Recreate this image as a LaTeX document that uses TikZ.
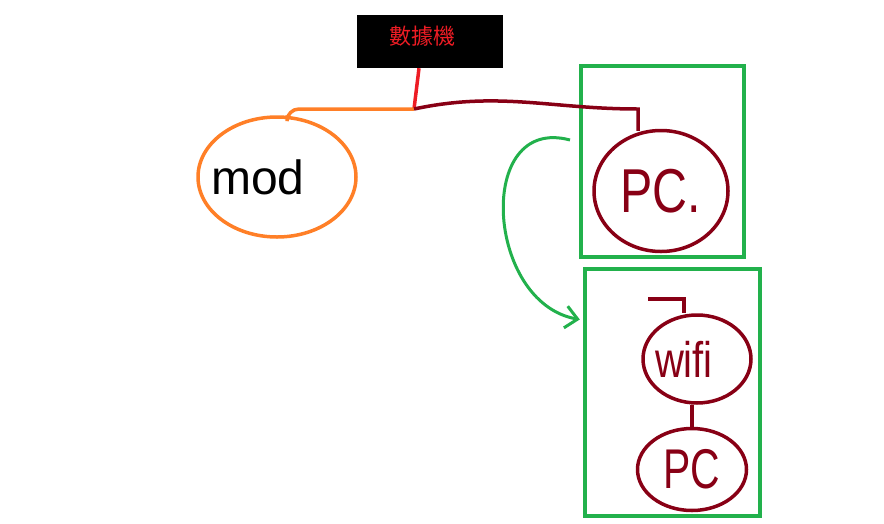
\documentclass[tikz,border=0pt]{standalone}
\usepackage{fontspec}
\setmainfont{Liberation Sans}
\newfontfamily\cjk{Noto Sans CJK TC}
\usepackage{tikz}
\usetikzlibrary{arrows.meta, positioning, shapes.geometric}

\definecolor{paintred}{HTML}{ED1C24}
\definecolor{paintorange}{HTML}{FF7F27}
\definecolor{paintgreen}{HTML}{22B14C}
\definecolor{paintdarkred}{HTML}{880015}

\begin{document}
\begin{tikzpicture}[
    x=1pt, y=1pt,
    >={Straight Barb[length=12pt, width=22pt]},
    modembox/.style={
        rectangle, fill=black, draw=none,
        minimum width=146pt, minimum height=53pt
    },
    device/.style={
        ellipse, draw=#1, line width=3.5pt, inner sep=0pt
    },
    device/.default={paintdarkred},
    groupbox/.style={
        rectangle, draw=paintgreen, line width=4.5pt, inner sep=0pt
    },
    link/.style={
        line width=3.5pt, draw=#1
    },
    hand/.style={
        font=\fontsize{#1}{#1}\selectfont
    }
]

\useasboundingbox (0,0) rectangle (884,-523);

% ── Modem ──
\node[modembox,
      label={[text=paintred, font=\cjk\fontsize{22}{22}\selectfont,
              xshift=-8pt, yshift=5pt]center:數據機}
] (modem) at (430,-41.5) {};
\coordinate (hub) at (414,-109);

% ── Mod ──
\node[device=paintorange, minimum width=158pt, minimum height=120pt,
      label={[hand=48, text=black, xshift=-19pt]center:mod}
] (mod) at (277,-177) {};

% ── Wired group ──
\node[groupbox, minimum width=163pt, minimum height=191pt] (wired) at (662.5,-161.5) {};
\node[device, minimum width=134pt, minimum height=121pt,
      hand=62, text=paintdarkred
] (pc) at (661,-191) {\scalebox{0.78}[1]{PC.}};

% ── Wireless group ──
\node[groupbox, minimum width=175pt, minimum height=247pt] (wireless) at (672.5,-392.5) {};
\node[device, minimum width=108pt, minimum height=88pt,
      label={[hand=50, text=paintdarkred, xshift=-13pt]center:\scalebox{0.8}[1]{wifi}}
] (wifi) at (697,-359) {};
\node[device, minimum width=109pt, minimum height=82pt,
      below=22pt of wifi, xshift=-5pt, hand=56, text=paintdarkred
] (pc2) {\scalebox{0.73}[1]{PC}};

% ── Links ──
% Modem -> hub
\draw[link=paintred] ([xshift=-11pt]modem.south) -- (hub);

% hub -> Mod
\draw[link=paintorange, rounded corners=12pt] (hub) -| ([xshift=10pt]mod.north);

% hub -> PC
\coordinate (pcin) at ([xshift=-23pt, yshift=-2pt]pc.north);
\draw[link=paintdarkred] (hub) to[out=12, in=180] (pcin |- hub) -- (pcin);

% cable into wifi, wifi -> PC
\coordinate (wifiin) at (648,-299);
\coordinate (wifitop) at ([xshift=-13pt]wifi.north);
\draw[link=paintdarkred] (wifiin) -| (wifitop);
\draw[link=paintdarkred] (pc2.north |- wifi.south) -- (pc2.north);

% ── Wired -> wireless ──
\coordinate (swapstart) at (570,-140);
\coordinate (swapend) at ([yshift=72.5pt]wireless.west);
\draw[->, line width=3pt, paintgreen, shorten >=3pt]
    (swapstart) to[out=165, in=170, looseness=1.4] (swapend);

\end{tikzpicture}
\end{document}
